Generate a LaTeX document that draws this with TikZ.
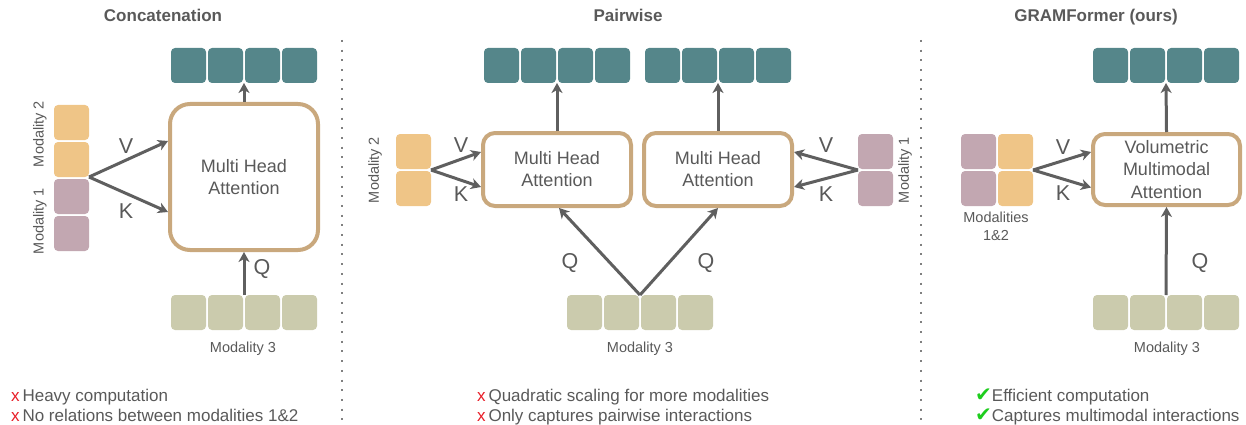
\documentclass[tikz,border=0pt]{standalone}
\usepackage{fontspec}
\setmainfont{Liberation Sans}
\newfontfamily\symfont{DejaVu Sans}
\usetikzlibrary{arrows.meta,calc}

\definecolor{outteal}{RGB}{85,134,138}
\definecolor{modA}{RGB}{194,167,177}
\definecolor{modB}{RGB}{239,197,135}
\definecolor{modC}{RGB}{203,203,173}
\definecolor{boxtan}{RGB}{201,168,125}
\definecolor{arrowgray}{RGB}{95,95,95}
\definecolor{txtgray}{RGB}{89,89,89}
\definecolor{xred}{RGB}{232,30,40}
\definecolor{okgreen}{RGB}{30,205,30}

\begin{document}
\begin{tikzpicture}[x=1pt,y=-1pt,
  blk/.style={rounded corners=4pt, minimum width=35pt, minimum height=35pt, inner sep=0pt, outer sep=0pt},
  attbox/.style={draw=boxtan, line width=4pt, fill=white, rounded corners=12pt, align=center,
                 text=txtgray, font=\fontsize{18}{22}\selectfont, inner sep=0pt},
  flow/.style={draw=arrowgray, line width=3pt, -{Stealth[length=10pt,width=11pt,inset=3pt]}},
  lbl/.style={text=txtgray, font=\fontsize{21.5}{24}\selectfont, inner sep=0pt},
  headline/.style={text=txtgray, font=\bfseries\fontsize{17}{20}\selectfont, anchor=base, inner sep=0pt},
  modname/.style={text=txtgray, font=\fontsize{14.5}{18}\selectfont, inner sep=0pt, align=center},
  note/.style={text=txtgray, font=\fontsize{17}{20}\selectfont, anchor=base west, inner sep=0pt},
  sepline/.style={draw=gray, line width=2pt, dash pattern=on 2pt off 7.7pt}]

\useasboundingbox (0,0) rectangle (1246,425);

% ---------- panel titles ----------
\node[headline] (t1) at (163,22) {Concatenation};
\node[headline] (t2) at (628,22) {Pairwise};
\node[headline] (t3) at (1096,22) {GRAMFormer (ours)};

% ---------- separators ----------
\draw[sepline] (341.5,40) -- (341.5,424);
\draw[sepline] (921,40) -- (921,424);

% ================= Concatenation =================
\foreach \i in {1,...,4} {
  \node[blk, fill=outteal] (co\i) at ({188.5+(\i-1)*37},65.5) {};
  \node[blk, fill=modC]    (cq\i) at ({188.5+(\i-1)*37},312.5) {};
}
\node[blk, fill=modB] (cm1) at (71.5,122.5) {};
\node[blk, fill=modB] (cm2) at (71.5,159.5) {};
\node[blk, fill=modA] (cm3) at (71.5,196.5) {};
\node[blk, fill=modA] (cm4) at (71.5,233.5) {};
\node[modname, rotate=90] (cl2) at (40,134) {Modality 2};
\node[modname, rotate=90] (cl1) at (40,221) {Modality 1};

\node[attbox, rounded corners=20pt, minimum width=148pt, minimum height=146pt] (cbox) at (244,177) {Multi Head\\Attention};

\draw[flow] (cm2.south east) -- ($(cbox.west)+(0,-36)$);
\draw[flow] (cm2.south east) -- ($(cbox.west)+(0,35)$);
\draw[flow] (cbox.north) -- ($(co2.south east)!0.5!(co3.south west)$);
\draw[flow] ($(cq2.north east)!0.5!(cq3.north west)$) -- (cbox.south);

\node[lbl] (cv) at (126,146) {V};
\node[lbl] (ck) at (126,211) {K};
\node[lbl] (cqq) at (262,269) {Q};
\node[modname] (c3) at (243,349) {Modality 3};

\node[note] (cn1) at (11,401.5) {{\color{xred}x}\,Heavy computation};
\node[note] (cn2) at (11,421.5) {{\color{xred}x}\,No relations between modalities 1\&2};

% ================= Pairwise =================
\foreach \i in {1,...,4} {
  \node[blk, fill=outteal] (pl\i) at ({501.5+(\i-1)*37},65.5) {};
  \node[blk, fill=outteal] (pr\i) at ({662.5+(\i-1)*37},65.5) {};
  \node[blk, fill=modC]    (pq\i) at ({584.5+(\i-1)*37},312.5) {};
}
\node[blk, fill=modB] (pa1) at (413.5,151.5) {};
\node[blk, fill=modB] (pa2) at (413.5,188.5) {};
\node[blk, fill=modA] (pb1) at (875.5,151.5) {};
\node[blk, fill=modA] (pb2) at (875.5,188.5) {};
\node[modname, rotate=90] (pl2lbl) at (375,170) {Modality 2};
\node[modname, rotate=90] (pr1lbl) at (905,170) {Modality 1};

\node[attbox, minimum width=148pt, minimum height=73pt] (pbl) at (557,169.5) {Multi Head\\Attention};
\node[attbox, minimum width=148pt, minimum height=73pt] (pbr) at (718,169.5) {Multi Head\\Attention};

\draw[flow] ($(pa1.south east)!0.5!(pa2.north east)$) -- ($(pbl.west)+(0,-17.5)$);
\draw[flow] ($(pa1.south east)!0.5!(pa2.north east)$) -- ($(pbl.west)+(0,17.5)$);
\draw[flow] ($(pb1.south west)!0.5!(pb2.north west)$) -- ($(pbr.east)+(0,-17.5)$);
\draw[flow] ($(pb1.south west)!0.5!(pb2.north west)$) -- ($(pbr.east)+(0,17.5)$);
\draw[flow] (pbl.north) -- ($(pl2.south east)!0.5!(pl3.south west)$);
\draw[flow] (pbr.north) -- ($(pr2.south east)!0.5!(pr3.south west)$);
\draw[flow] ($(pq2.north east)!0.5!(pq3.north west)$) -- ($(pbl.south)+(2,0)$);
\draw[flow] ($(pq2.north east)!0.5!(pq3.north west)$) -- (pbr.south);

\node[lbl] (pv1) at (461,145) {V};
\node[lbl] (pk1) at (461,194) {K};
\node[lbl] (pv2) at (826,145) {V};
\node[lbl] (pk2) at (826,194) {K};
\node[lbl] (pq1lbl) at (570,263) {Q};
\node[lbl] (pq2lbl) at (706,263) {Q};
\node[modname] (p3) at (640,349) {Modality 3};

\node[note] (pn1) at (477,401.5) {{\color{xred}x}\,Quadratic scaling for more modalities};
\node[note] (pn2) at (477,421.5) {{\color{xred}x}\,Only captures pairwise interactions};

% ================= GRAMFormer =================
\foreach \i in {1,...,4} {
  \node[blk, fill=outteal] (go\i) at ({1110.5+(\i-1)*37},65.5) {};
  \node[blk, fill=modC]    (gq\i) at ({1110.5+(\i-1)*37},312.5) {};
}
\node[blk, fill=modA] (ga1) at (978.5,151.5) {};
\node[blk, fill=modA] (ga2) at (978.5,188.5) {};
\node[blk, fill=modB] (gb1) at (1015.5,151.5) {};
\node[blk, fill=modB] (gb2) at (1015.5,188.5) {};
\node[modname] (glbl) at (996,226) {Modalities\\1\&2};

\node[attbox, font=\fontsize{18}{22.5}\selectfont, minimum width=147pt, minimum height=71pt] (gbox) at (1166.5,169.5) {Volumetric\\Multimodal\\Attention};

\draw[flow] ($(gb1.south east)!0.5!(gb2.north east)$) -- ($(gbox.west)+(0,-17.5)$);
\draw[flow] ($(gb1.south east)!0.5!(gb2.north east)$) -- ($(gbox.west)+(0,18)$);
\draw[flow] (gbox.north) -- ($(go2.south east)!0.5!(go3.south west)$);
\draw[flow] ($(gq2.north east)!0.5!(gq3.north west)$) -- (gbox.south);

\node[lbl] (gv) at (1063,147) {V};
\node[lbl] (gk) at (1063,193) {K};
\node[lbl] (gqlbl) at (1200,263) {Q};
\node[modname] (g3) at (1167,349) {Modality 3};

\node[note] (gn1) at (975,401.5) {{\symfont\fontsize{20}{20}\selectfont\color{okgreen}✔}Efficient computation};
\node[note] (gn2) at (975,421.5) {{\symfont\fontsize{20}{20}\selectfont\color{okgreen}✔}Captures multimodal interactions};

\end{tikzpicture}
\end{document}
